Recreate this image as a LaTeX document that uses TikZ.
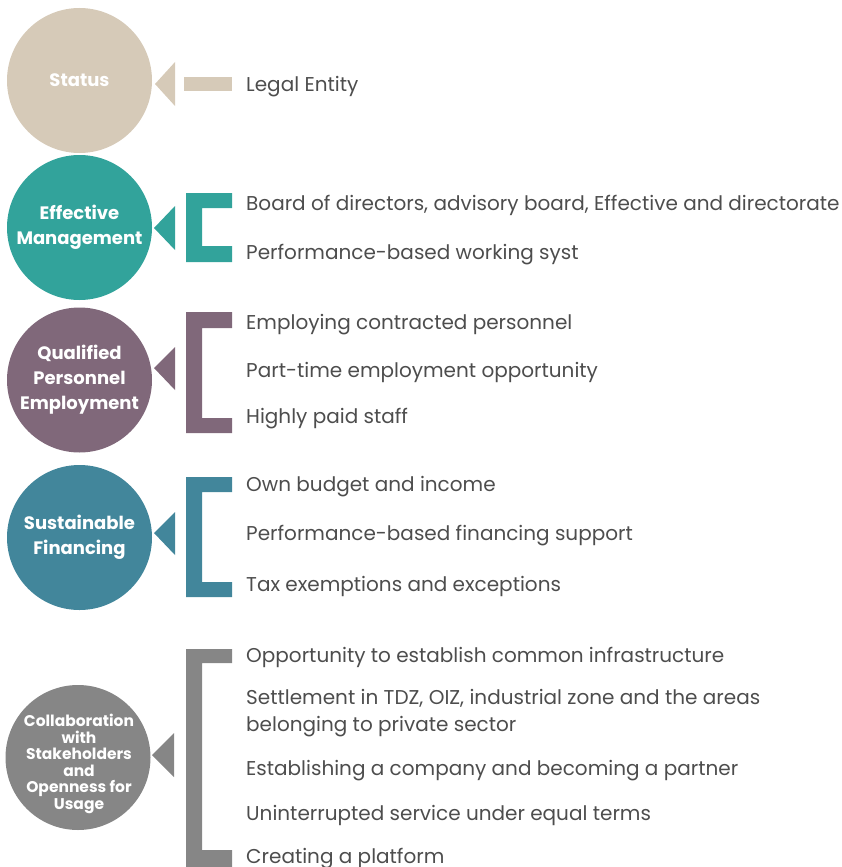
\documentclass[tikz,border=0pt]{standalone}
\usepackage{fontspec}
\setmainfont{Poppins}
\usepackage{tikz}
\usetikzlibrary{positioning}
\usepackage{xcolor}
\definecolor{statbeige}{RGB}{214,202,184}
\definecolor{mgmtteal}{RGB}{50,163,155}
\definecolor{persmauve}{RGB}{128,104,122}
\definecolor{finblue}{RGB}{66,134,155}
\definecolor{collgray}{RGB}{134,134,134}
\definecolor{txtgray}{RGB}{77,77,77}

\begin{document}
\begin{tikzpicture}[
      x=1pt,y=-1pt,
      circ/.style={circle,inner sep=0pt,minimum size=145pt,text=white,align=center,
        font=\fontsize{18}{25}\selectfont\bfseries},
      item/.style={anchor=west,inner sep=0pt,text=txtgray,align=left,
        font=\fontsize{20}{27}\selectfont}
    ]
    \useasboundingbox (0,0) rectangle (841,867);

    % round labels on the left
    \node[circ,fill=statbeige] (status) at (79.5,80.5) {Status};
    \node[circ,fill=mgmtteal] (mgmt) at (79.5,227.5) {Effective\\Management};
    \node[circ,fill=persmauve] (pers) at (79.5,380) {Qualified\\Personnel\\Employment};
    \node[circ,fill=finblue] (fin) at (79.5,537.5) {Sustainable\\Financing};
    \node[circ,fill=collgray,minimum size=145pt] (coll) at (78,757.5) {};
    \node[text=white,align=center,inner sep=0pt,font=\fontsize{15.5}{16.5}\selectfont\bfseries]
      (colltxt) at (79,764) {Collaboration\\with\\Stakeholders\\and\\Openness for\\Usage};

    % pointers
    \fill[statbeige] (155,84) -- (175,62) -- (175,106) -- cycle;
    \fill[mgmtteal] (154,228) -- (175,206) -- (175,250) -- cycle;
    \fill[persmauve] (154,368) -- (175,347) -- (175,390) -- cycle;
    \fill[finblue] (154,533) -- (175,512) -- (175,555) -- cycle;
    \fill[collgray] (152,755) -- (174,733) -- (174,777) -- cycle;

    % brackets
    \fill[statbeige] (184,77) rectangle (232,91);
    \fill[mgmtteal] (232,193) -- (186,193) -- (186,262) -- (232,262) -- (232,246)
      -- (202,246) -- (202,208) -- (232,208) -- cycle;
    \fill[persmauve] (232,312) -- (186,312) -- (186,433) -- (232,433) -- (232,418)
      -- (202,418) -- (202,328) -- (232,328) -- cycle;
    \fill[finblue] (232,477) -- (186,477) -- (186,597) -- (232,597) -- (232,582)
      -- (202,582) -- (202,492) -- (232,492) -- cycle;
    \fill[collgray] (232,649) -- (186,649) -- (186,875) -- (232,875) -- (232,850)
      -- (202,850) -- (202,663) -- (232,663) -- cycle;

    % entries
    \node[item] (s1) at (246,87) {Legal Entity};
    \node[item] (m1) at (246,205) {Board of directors, advisory board, Effective and directorate};
    \node[item] (m2) at (246,255) {Performance-based working syst};
    \node[item] (p1) at (246,325) {Employing contracted personnel};
    \node[item] (p2) at (246,372) {Part-time employment opportunity};
    \node[item] (p3) at (246,419) {Highly paid staff};
    \node[item] (f1) at (246,487) {Own budget and income};
    \node[item] (f2) at (246,536) {Performance-based financing support};
    \node[item] (f3) at (246,586) {Tax exemptions and exceptions};
    \node[item] (c1) at (246,657) {Opportunity to establish common infrastructure};
    \node[item] (c2) at (246,713) {Settlement in TDZ, OIZ, industrial zone and the areas\\belonging to private sector};
    \node[item] (c3) at (246,771) {Establishing a company and becoming a partner};
    \node[item] (c4) at (246,815) {Uninterrupted service under equal terms};
    \node[item] (c5) at (246,859) {Creating a platform};
  \end{tikzpicture}
\end{document}
